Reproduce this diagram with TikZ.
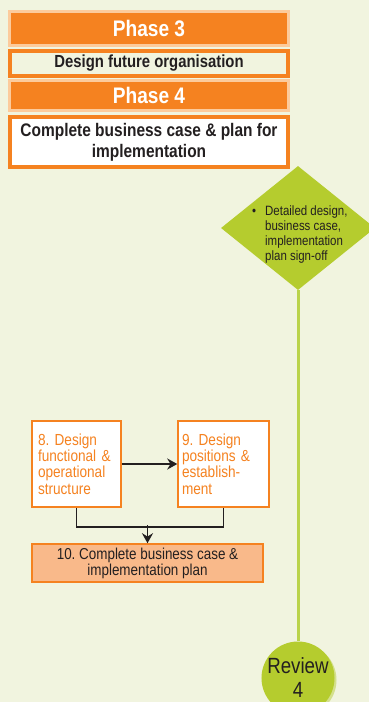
\documentclass[tikz,border=0pt]{standalone}
\usepackage{fontspec}
\setmainfont{Liberation Sans}[FakeStretch=0.85]
\usetikzlibrary{shapes.geometric,calc,shadows,arrows.meta}
\definecolor{bgc}{HTML}{F1F4DF}
\definecolor{orng}{HTML}{F58220}
\definecolor{peach}{HTML}{FCCB9C}
\definecolor{lime}{HTML}{B5CC2E}
\definecolor{limeln}{HTML}{BAD34A}
\definecolor{limesh}{HTML}{D4E08C}
\definecolor{salmon}{HTML}{F9B98A}
\definecolor{ink}{HTML}{231F20}
\frenchspacing
\begin{document}
\begin{tikzpicture}[x=1pt, y=-1pt,
  ph/.style={rectangle, draw=peach, line width=3pt, fill=orng, text=white,
    minimum width=279pt, font=\fontsize{22.5}{24}\selectfont\bfseries},
  ti/.style={rectangle, draw=orng, line width=4pt, text=ink, align=center,
    minimum width=278pt, font=\fontsize{17.5}{21}\selectfont\bfseries},
  st/.style={rectangle, draw=orng, line width=1.5pt, fill=white, text=orng,
    align=left, minimum height=86pt, inner ysep=0pt,
    font=\fontsize{16}{16.3}\selectfont},
  a/.style={line width=1.8pt, draw=ink, -{Stealth[length=10pt, width=11pt]}},
  ln/.style={line width=1.8pt, draw=ink}
]
\clip (0,0) rectangle (369,702);
\fill[bgc] (0,0) rectangle (369,702);
% phase headers
\node[ph, minimum height=34pt] (ph3) at (149,28.5) {Phase 3};
\node[ti, fill=bgc, minimum height=25pt] (t3) at (149,63.5) {Design future organisation};
\node[ph, minimum height=30pt] (ph4) at (149,95.5) {Phase 4};
\node[ti, fill=white, minimum height=50pt, font=\fontsize{18.2}{21}\selectfont\bfseries] (t4) at (149,142)
  {Complete business case \& plan for\\implementation};
% milestone
\node[diamond, fill=lime, minimum width=154pt, minimum height=124pt, inner sep=0pt] (gate) at (298,228) {};
\node[anchor=west, align=left, inner sep=0pt, text=ink, font=\fontsize{13.5}{15}\selectfont] (gtxt) at (252,235)
  {\makebox[13pt][l]{\textbullet}Detailed design,\\\hspace*{13pt}business case,\\
   \hspace*{13pt}implementation\\\hspace*{13pt}plan sign-off};
\node[circle, fill=lime, minimum size=72pt, inner sep=0pt, align=center, text=ink,
  font=\fontsize{22}{24}\selectfont,
  drop shadow={shadow xshift=2pt, shadow yshift=-2pt, fill=limesh, opacity=1}] (rev) at (298,678) {Review\\4};
\draw[limeln, line width=3pt] (gate.south) -- (rev.north);
% steps
\node[st, minimum width=89pt, text width=77pt, inner xsep=6pt] (s8) at (76.5,464)
  {8. Design\\functional \&\\operational\\structure};
\node[st, minimum width=91pt, text width=83pt, inner xsep=4pt] (s9) at (223.5,464)
  {9. Design\\positions \&\\establish-\\ment};
\node[rectangle, draw=orng, line width=1.5pt, fill=salmon, text=ink, align=center,
  minimum width=231pt, minimum height=38pt, font=\fontsize{15.8}{16}\selectfont] (s10) at (147.5,563)
  {10. Complete business case \&\\implementation plan};
\draw[a] (s8) -- (s9);
\draw[ln] (s8.south) -- ++(0,19) -| (s9.south);
\coordinate (mrg) at ($(s10.north)+(0,-18)$);
\draw[a] (mrg) -- (s10.north);
\end{tikzpicture}
\end{document}
